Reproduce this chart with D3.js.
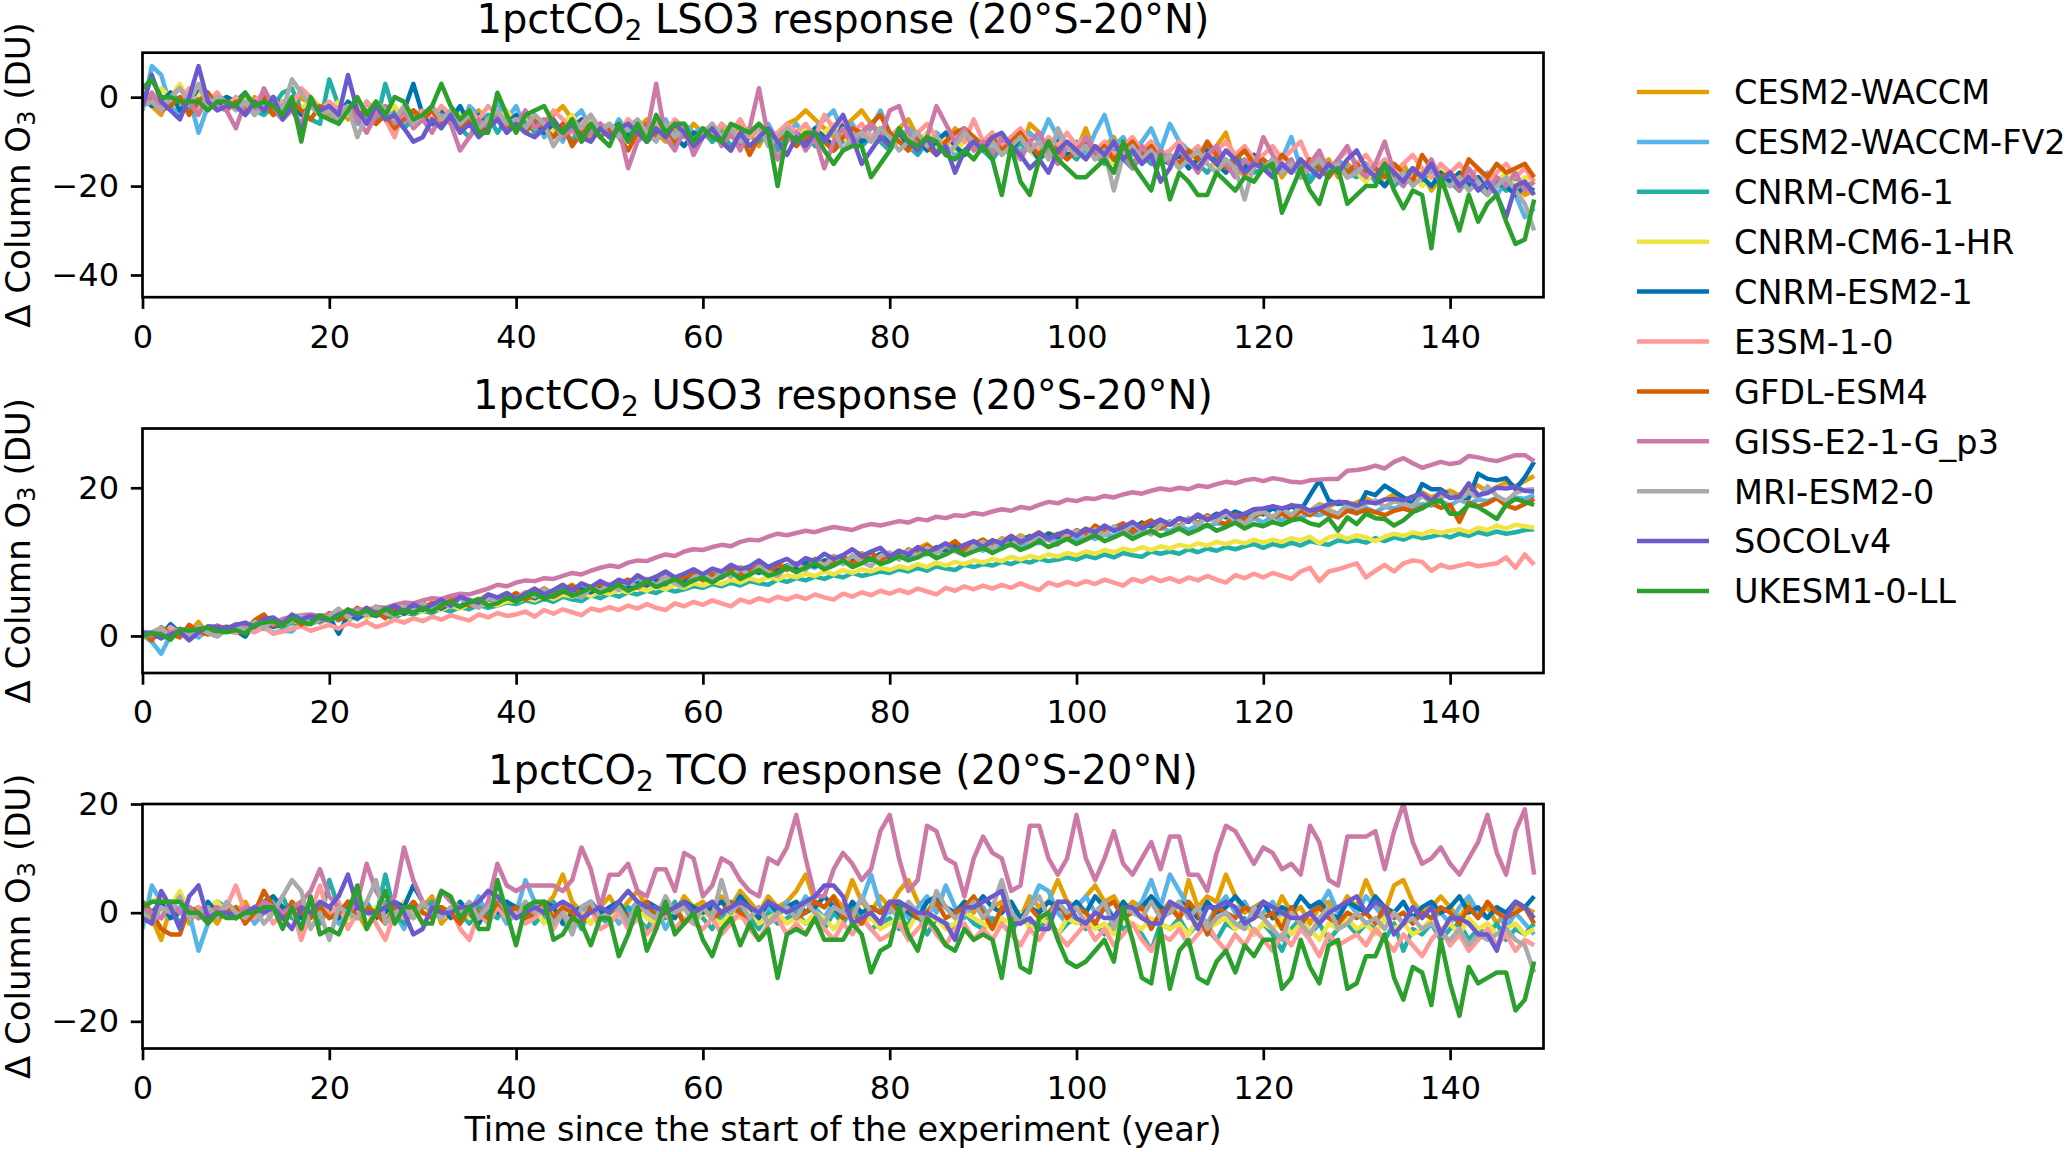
<!DOCTYPE html>
<html>
<head>
<meta charset="UTF-8">
<title>1pctCO2 ozone response</title>
<script src="https://d3js.org/d3.v7.min.js"></script>
<style>
  body { margin: 0; background: #fff; }
  svg text { font-family: "DejaVu Sans", sans-serif; fill: #000; }
</style>
</head>
<body>
<svg id="chart" width="2067" height="1152"></svg>
<script>
var models = ["CESM2-WACCM", "CESM2-WACCM-FV2", "CNRM-CM6-1", "CNRM-CM6-1-HR", "CNRM-ESM2-1",
              "E3SM-1-0", "GFDL-ESM4", "GISS-E2-1-G_p3", "MRI-ESM2-0", "SOCOLv4", "UKESM1-0-LL"];
var colors = ["#E69F00", "#56B4E9", "#20B0A8", "#F0E442", "#0072B2",
              "#FF9896", "#D55E00", "#CC79A7", "#AAAAAA", "#6A5ACD", "#2CA02C"];
var xTicks = [0, 20, 40, 60, 80, 100, 120, 140];

// ---- lower stratospheric ozone (LSO3), DU, years 0..149
var lso3_cesm = [0,-2,-4,1,-1,0,2,-1,1,-2, -1,-3,0,-2,-4,-1,-3,0,-2,-3, -4,-2,-5,-3,-6,-4,-2,-5,-3,-6, -5,-3,-6,-4,-7,-5,-3,-6,-4,-5, -7,-5,-8,-6,-4,-2,-5,-7,-9,-6, -8,-6,-9,-7,-5,-8,-10,-7,-9,-6, -8,-10,-7,-9,-6,-8,-11,-7,-9,-6, -5,-3,-5,-7,-9,-7,-5,-3,-6,-8, -9,-7,-5,-9,-11,-8,-10,-7,-9,-12, -10,-8,-11,-9,-13,-6,-8,-12,-10,-13, -12,-7,-13,-11,-9,-13,-15,-12,-10,-14, -13,-15,-12,-16,-14,-11,-8,-15,-18,-14, -16,-14,-18,-15,-17,-19,-16,-14,-18,-15, -17,-19,-16,-20,-18,-15,-19,-17,-21,-18, -19,-21,-18,-20,-22,-19,-21,-20,-22,-21];
var lso3_fv2 = [-3,7,5,-2,-4,0,-8,-2,-1,-3, 0,-4,-2,-1,-3,-5,-2,-4,-1,-3, -2,-5,-3,-6,-1,-4,-2,-5,-7,-3, -4,-6,-3,-5,-8,-2,-4,-6,-1,-5, -2,-7,-4,-9,-6,-10,-5,-3,-7,-6, -9,-5,-8,-6,-10,-7,-5,-9,-6,-8, -7,-10,-6,-8,-11,-7,-9,-6,-10,-8, -6,-9,-7,-5,-3,-8,-6,-10,-7,-3, -8,-10,-7,-9,-12,-8,-10,-13,-9,-11, -10,-12,-9,-11,-13,-8,-10,-5,-9,-12, -10,-13,-8,-4,-11,-9,-13,-10,-7,-12, -6,-10,-12,-14,-11,-15,-12,-14,-16,-13, -15,-17,-14,-9,-16,-18,-15,-17,-14,-16, -17,-15,-19,-16,-18,-20,-17,-19,-16,-18, -20,-18,-21,-19,-17,-22,-19,-22,-27,-25];
var lso3_cnrm = [-1,0,-2,1,-1,-3,0,-2,-1,0, -2,-1,-3,-4,-2,1,2,-3,-5,-6, 4,-2,-4,-3,-5,-6,3,-4,-7,-5, -4,-6,-3,-5,-7,-9,-6,-4,-8,-5, -7,-5,-8,-6,-9,-7,-10,-6,-8,-7, -9,-7,-10,-8,-6,-9,-7,-11,-8,-9, -7,-10,-8,-11,-9,-7,-10,-8,-12,-9, -10,-8,-11,-9,-12,-10,-8,-11,-9,-10, -12,-9,-11,-13,-10,-12,-9,-11,-13,-10, -12,-14,-11,-13,-10,-12,-14,-11,-13,-12, -14,-11,-13,-15,-12,-14,-16,-13,-15,-12, -14,-16,-13,-15,-17,-14,-16,-13,-15,-17, -16,-18,-15,-17,-14,-19,-16,-18,-15,-17, -18,-16,-19,-17,-20,-18,-16,-19,-17,-20, -19,-21,-18,-20,-22,-19,-21,-18,-20,-19];
var lso3_cnrmhr = [1,-1,2,0,3,-1,1,-2,0,-1, -2,0,-3,-1,-2,-4,-1,-3,0,-2, -3,-1,-4,-2,-5,-3,-4,-2,-5,-3, -4,-6,-2,-5,-3,-6,-4,-7,-5,-3, -6,-4,-7,-5,-8,-6,-4,-7,-5,-8, -6,-8,-5,-9,-7,-6,-8,-10,-7,-9, -8,-6,-9,-7,-10,-8,-9,-7,-10,-8, -9,-7,-10,-8,-6,-9,-11,-8,-10,-9, -11,-9,-12,-10,-8,-11,-9,-12,-10,-11, -12,-10,-13,-11,-9,-12,-14,-11,-13,-12, -13,-11,-14,-12,-15,-13,-11,-14,-12,-15, -14,-16,-13,-15,-12,-16,-14,-17,-15,-13, -16,-14,-17,-15,-18,-16,-14,-17,-15,-18, -17,-19,-16,-18,-15,-19,-17,-20,-18,-16, -19,-17,-20,-18,-21,-19,-17,-20,-18,-19];
var lso3_esm = [0,-2,-1,1,-3,-1,2,1,-2,0, -1,1,-2,-3,0,-2,-1,-4,-2,-3, -2,-4,-1,-3,-5,-2,-4,-6,-3,3, -4,-6,-3,-5,-2,-6,-4,-7,-5,-6, -4,-7,-5,-8,-6,-9,-7,-5,-8,-6, -8,-6,-9,-7,-10,-8,-6,-9,-11,-8, -9,-7,-10,-8,-11,-9,-7,-10,-8,-9, -8,-10,-7,-9,-11,-6,-8,-10,-9,-7, -10,-8,-11,-9,-12,-10,-8,-11,-13,-9, -11,-13,-10,-12,-9,-11,-14,-12,-10,-13, -12,-10,-13,-11,-14,-12,-15,-13,-11,-14, -15,-13,-16,-14,-12,-15,-17,-14,-16,-13, -16,-14,-17,-15,-18,-16,-14,-17,-15,-18, -17,-15,-18,-20,-17,-19,-16,-18,-20,-17, -19,-17,-20,-18,-21,-19,-20,-22,-20,-21];
var lso3_e3sm = [-1,1,-2,0,-1,2,-3,-1,1,-2, 0,-2,-1,1,-3,-1,-2,2,0,-3, -1,-3,-2,-4,-1,-3,-5,-9,-2,-4, -3,-5,-2,-4,-6,-3,-5,-2,-4,-6, -5,-7,-4,-6,-3,-5,-8,-6,-4,-7, -6,-8,-5,-7,-9,-6,-8,-5,-7,-10, -7,-9,-6,-8,-5,-9,-7,-10,-8,-6, -8,-6,-9,-4,-7,-5,-8,-6,-9,-7, -9,-7,-10,-8,-6,-9,-11,-8,-10,-5, -10,-8,-11,-9,-7,-10,-12,-9,-11,-8, -11,-9,-12,-10,-13,-11,-9,-12,-10,-13, -12,-10,-13,-11,-14,-12,-10,-13,-11,-14, -13,-11,-14,-12,-10,-15,-13,-16,-14,-12, -15,-13,-16,-14,-17,-15,-13,-16,-18,-15, -17,-15,-18,-16,-19,-17,-15,-18,-16,-19];
var lso3_gfdl = [1,-1,-3,-2,0,-4,-1,1,-2,-3, -1,-3,-2,0,-4,-2,-1,-3,-5,-2, -3,-5,-2,-4,-3,-6,-4,-7,-5,-3, -5,-3,-6,-4,-7,-5,-8,-6,-4,-7, -6,-8,-5,-7,-9,-6,-11,-8,-6,-9, -7,-9,-12,-8,-6,-9,-7,-10,-8,-11, -9,-7,-10,-12,-8,-13,-9,-7,-10,-8, -11,-9,-8,-10,-12,-9,-7,-8,-6,-4, -8,-10,-12,-9,-11,-13,-10,-8,-7,-9, -11,-9,-12,-10,-8,-11,-13,-10,-12,-14, -12,-10,-13,-11,-14,-12,-10,-13,-11,-14, -13,-15,-12,-14,-10,-13,-16,-14,-12,-15, -14,-16,-13,-15,-17,-14,-16,-18,-15,-17, -15,-17,-16,-18,-15,-17,-19,-13,-16,-18, -17,-19,-14,-16,-18,-15,-17,-16,-15,-18];
var lso3_giss = [-2,1,-3,0,2,-1,-4,0,-2,-3, -7,-1,-4,2,-2,-5,-3,-6,-1,-4, -3,-6,-2,-5,-8,-4,-2,-6,-3,-7, -5,-8,-4,-6,-12,-9,-5,-7,-4,-8, -6,-3,-7,-5,-6,-9,-7,-10,-8,-6, -9,-7,-16,-10,-8,3,-9,-12,-7,-13, -9,-6,-11,-8,-12,-7,2,-9,-14,-10, -8,-12,-9,-16,-10,-7,-11,-8,-6,-9, -3,-2,-8,-11,-9,-2,-6,-10,-7,-12, -10,-13,-9,-11,-14,-10,-8,-12,-15,-11, -13,-9,-12,-14,-10,-13,-16,-11,-14,-12, -15,-12,-14,-17,-13,-11,-15,-18,-14,-16, -9,-13,-16,-14,-18,-15,-12,-17,-14,-11, -16,-18,-15,-10,-17,-20,-16,-18,-14,-19, -17,-21,-16,-19,-22,-18,-20,-17,-21,-19];
var lso3_mri = [-2,-1,-3,0,2,-1,3,-2,0,-1, -3,-1,-4,-2,0,-3,4,1,-2,-4, -3,-5,-2,-9,-4,-1,-3,-5,-2,-6, -4,-2,-5,-3,-6,-4,-7,-5,-3,-6, -5,-7,-4,-6,-11,-8,-5,-7,-4,-8, -6,-9,-7,-5,-8,-10,-6,-9,-7,-11, -8,-6,-9,-7,-10,-8,-6,-11,-9,-7, -9,-11,-8,-10,-7,-12,-9,-8,-10,-7, -9,-12,-10,-8,-11,-9,-13,-11,-8,-10, -12,-10,-13,-11,-9,-12,-10,-14,-7,-11, -13,-11,-14,-12,-21,-13,-11,-14,-12,-15, -13,-16,-14,-12,-15,-17,-14,-16,-23,-15, -16,-14,-17,-15,-18,-16,-14,-17,-15,-18, -17,-15,-18,-16,-19,-17,-20,-18,-16,-19, -20,-18,-21,-19,-22,-20,-18,-21,-24,-30];
var lso3_socol = [-2,5,-1,-3,-5,0,7,-1,-3,-2, -2,-4,-1,-3,0,-5,-2,-8,-1,-3, -2,-4,5,-3,-6,-2,-5,-4,-7,-10, -9,-5,-7,-4,-8,-6,-9,-7,-5,-8, -6,-8,-9,-7,-5,-8,-6,-9,-10,-7, -9,-7,-6,-8,-10,-7,-9,-6,-8,-11, -9,-7,-10,-12,-8,-11,-9,-7,-10,-13, -9,-11,-8,-10,-7,-4,-9,-15,-12,-9, -11,-8,-10,-12,-9,-13,-11,-17,-12,-10, -12,-9,-8,-11,-13,-16,-14,-17,-12,-10, -12,-14,-11,-13,-10,-14,-12,-15,-13,-19, -16,-11,-14,-16,-13,-15,-12,-14,-17,-15, -16,-18,-15,-17,-14,-16,-18,-15,-17,-14, -12,-16,-18,-15,-17,-19,-16,-18,-15,-19, -17,-20,-18,-21,-19,-22,-27,-20,-19,-22];
var lso3_ukesm = [2,4,0,0,-1,-1,-1,-3,-1,-1, -2,1,-2,-1,-2,-4,0,-10,0,-4, -5,-6,-3,0,-4,-1,-4,0,-1,-5, -4,-2,3,-2,-5,-3,-8,-8,1,-4, -8,-4,-3,-2,-6,-8,-5,-10,-6,-9, -11,-6,-10,-6,-10,-4,-8,-6,-6,-10, -7,-9,-10,-6,-7,-8,-6,-8,-20,-8, -10,-8,-8,-12,-15,-12,-11,-11,-18,-15, -12,-7,-10,-11,-9,-10,-13,-14,-12,-14, -11,-14,-22,-11,-19,-22,-14,-10,-14,-16, -18,-18,-16,-14,-17,-10,-15,-18,-21,-13, -23,-17,-19,-22,-22,-17,-19,-21,-18,-19, -16,-15,-26,-21,-16,-21,-24,-17,-16,-24, -22,-20,-20,-15,-21,-25,-21,-22,-34,-18, -24,-30,-22,-28,-24,-22,-28,-33,-32,-23];

// ---- upper stratospheric ozone (USO3), DU
var uso3_cesm = [0.3,-0.4,0.6,0.1,1.0,0.4,1.9,0.2,0.8,1.3, 0.9,1.6,1.2,2.4,1.5,1.9,2.7,2.0,2.5,2.2, 2.9,3.4,2.6,3.1,3.8,2.9,3.6,4.1,3.5,3.9, 4.4,3.8,4.9,4.5,5.2,4.3,4.8,5.6,5.0,5.4, 5.1,5.9,5.5,6.4,5.7,6.2,6.9,6.1,6.6,7.0, 6.5,7.2,6.8,7.6,7.1,8.0,7.3,7.8,8.4,7.7, 8.2,8.9,8.0,8.6,9.3,8.7,9.5,9.0,9.8,9.2, 9.6,10.3,9.7,10.1,10.8,9.9,10.6,11.2,10.4,11.0, 10.7,11.5,11.0,11.8,12.4,11.3,12.0,12.6,11.9,12.3, 12.8,12.1,13.2,12.7,13.6,13.0,12.6,13.9,13.4,14.1, 13.7,14.5,13.9,14.8,14.2,15.0,14.4,15.3,14.7,15.6, 15.1,15.8,15.4,16.3,15.6,16.0,16.7,15.9,16.5,17.1, 16.6,17.3,16.8,17.7,17.2,16.9,17.8,17.4,18.1,17.6, 18.0,18.6,17.9,18.4,19.1,18.3,18.8,19.4,18.7,19.2, 19.6,19.0,19.8,20.3,19.5,20.1,20.7,20.2,20.9,21.6];
var uso3_fv2 = [0.2,-0.8,-2.4,0.1,0.7,0.3,-0.2,0.9,0.5,1.2, 0.8,1.4,0.6,1.1,0.4,0.7,0.6,1.9,2.2,1.8, 2.5,2.1,2.9,2.2,3.3,2.8,3.4,3.1,3.9,3.2, 3.8,3.6,4.3,4.5,3.9,4.9,4.3,5.0,4.8,5.5, 4.9,5.7,5.1,5.8,5.6,6.2,5.5,6.5,6.1,6.6, 6.4,6.9,6.5,7.4,7.0,7.5,7.2,7.7,7.5,8.2, 7.6,8.4,7.9,8.6,8.3,8.8,8.6,9.3,8.7,9.5, 9.1,9.6,9.2,10.1,9.6,10.1,9.9,10.4,10.2,10.9, 10.2,11.1,10.5,11.2,11.0,11.5,11.2,11.9,11.3,12.2, 11.5,12.4,11.8,12.5,12.2,12.7,12.5,13.2,12.6,13.4, 12.8,13.7,13.1,13.7,13.5,14.0,13.8,14.4,13.8,14.7, 14.1,14.9,14.3,15.0,14.8,15.2,15.0,15.7,15.1,15.9, 15.3,16.2,15.6,16.2,16.0,16.5,16.3,16.7,16.5,17.1, 16.5,17.3,16.7,17.4,17.2,17.6,17.4,17.8,17.6,18.2, 17.6,18.4,17.8,18.4,18.2,18.6,18.3,18.7,18.5,19.0];
var uso3_cnrm = [0.1,0.4,-0.3,0.6,0.2,0.8,0.5,0.3,0.9,0.6, 1.1,0.8,1.4,1.0,1.5,1.2,1.8,1.4,1.7,2.0, 2.2,2.6,2.1,2.8,2.5,3.0,2.7,2.4,3.2,2.9, 3.4,3.1,3.7,3.3,3.9,3.6,4.2,3.8,4.1,4.5, 4.3,4.8,4.5,5.0,4.6,5.3,4.9,4.7,5.5,5.1, 5.7,5.3,5.9,5.6,6.1,5.8,6.4,6.0,6.3,6.7, 6.5,7.0,6.7,7.2,6.8,7.4,7.1,6.9,7.6,7.3, 7.8,7.5,8.0,7.7,8.2,7.9,8.5,8.1,8.4,8.7, 8.5,9.0,8.7,9.2,8.8,9.4,9.1,8.9,9.6,9.3, 9.7,9.5,10.0,9.7,10.2,9.9,10.4,10.1,10.3,10.6, 10.3,10.8,10.5,11.0,10.6,11.2,10.9,10.7,11.4,11.1, 11.4,11.1,11.7,11.3,11.8,11.5,12.0,11.7,12.1,12.4, 11.9,12.4,12.1,12.6,12.2,12.8,12.5,12.3,12.9,12.7, 12.9,12.6,13.2,12.8,13.3,13.0,13.5,13.2,13.4,13.7, 13.3,13.8,13.5,14.0,13.7,14.1,13.8,14.0,14.3,14.4];
var uso3_cnrmhr = [-0.2,0.5,0.2,0.9,0.4,0.7,1.1,0.6,0.9,1.3, 1.0,1.5,1.2,1.8,1.4,1.6,2.1,1.7,2.0,2.4, 2.0,2.6,2.3,2.8,2.5,3.0,2.7,3.2,2.9,3.4, 3.3,3.8,3.5,4.1,3.7,4.3,4.0,4.5,4.1,4.7, 4.6,5.1,4.8,5.4,5.0,5.6,5.3,5.8,5.4,6.0, 5.7,6.2,5.9,6.5,6.1,6.7,6.3,6.9,6.5,7.1, 6.8,7.3,7.0,7.6,7.2,7.8,7.4,8.0,7.6,8.2, 7.9,8.4,8.1,8.7,8.3,8.9,8.5,9.0,8.7,9.2, 8.9,9.4,9.1,9.7,9.3,9.9,9.5,10.0,9.7,10.2, 9.9,10.4,10.1,10.7,10.3,10.8,10.5,11.0,10.7,11.2, 10.9,11.4,11.1,11.6,11.3,11.8,11.5,12.0,11.6,12.1, 11.8,12.3,12.0,12.5,12.2,12.7,12.4,12.8,12.5,13.0, 12.6,13.0,12.7,13.2,12.9,13.4,12.5,13.3,13.6,13.1, 13.6,13.3,12.8,13.4,13.8,13.5,14.0,13.7,14.2,13.9, 14.2,14.4,14.0,14.6,14.3,14.9,14.5,15.0,14.8,14.6];
var uso3_esm = [0.3,-0.2,0.1,1.6,0.4,0.2,0.6,0.5,0.9,1.2, 0.7,-0.1,1.8,2.5,1.2,1.6,2.0,2.3,1.9,2.4, 2.6,0.3,2.8,2.4,3.1,2.7,3.3,3.6,3.0,3.8, 3.5,4.1,3.7,4.4,4.0,4.7,4.3,5.0,4.6,5.2, 4.8,5.5,5.1,5.8,5.3,6.0,5.7,6.3,5.9,6.6, 6.2,6.9,6.4,7.1,6.8,7.5,7.0,7.8,7.3,8.0, 7.6,8.3,7.9,8.7,8.1,8.9,8.5,9.3,8.8,9.5, 9.1,9.9,9.4,10.2,9.7,10.5,10.0,10.8,10.3,11.1, 10.6,11.4,10.9,11.7,11.2,12.0,11.6,12.3,11.9,12.7, 12.1,12.9,12.4,13.2,12.8,13.5,13.1,13.8,13.3,14.1, 13.6,14.4,13.9,14.7,14.2,15.0,14.5,15.3,14.8,15.6, 15.1,15.9,15.4,16.2,15.7,16.5,16.0,16.8,16.3,17.0, 16.4,17.2,16.7,17.5,16.9,19.0,21.0,18.3,17.8,18.0, 16.9,19.4,19.0,20.3,19.5,18.7,17.8,20.5,19.8,19.8, 18.9,18.7,18.6,21.9,21.2,21.0,21.3,19.8,21.4,23.5];
var uso3_e3sm = [0.1,0.5,-0.3,1.2,0.4,0.8,0.3,0.6,1.1,0.7, 0.4,0.9,0.5,1.2,0.3,0.6,1.0,1.3,0.7,1.1, 1.5,1.0,1.7,1.3,1.9,1.2,1.6,2.2,1.8,2.4, 2.0,2.6,2.2,2.8,2.4,2.1,2.9,2.5,3.1,2.7, 2.9,3.3,2.6,3.5,3.0,3.6,3.2,2.8,3.7,3.4, 3.9,3.5,4.1,3.7,4.3,3.8,3.5,4.4,4.0,4.6, 4.2,4.8,4.4,4.0,4.9,4.5,5.1,4.7,5.3,4.9, 5.4,5.0,5.6,5.2,4.9,5.7,5.3,5.9,5.5,6.1, 5.7,6.2,5.8,6.4,6.0,5.6,6.5,6.1,6.7,6.3, 6.8,6.4,6.9,6.5,7.1,6.6,6.2,7.2,6.8,7.3, 6.9,7.4,7.0,7.6,7.2,6.8,7.7,7.3,7.9,7.4, 7.8,7.3,7.9,7.5,8.1,7.6,7.2,8.2,7.8,8.4, 7.9,8.5,8.1,7.7,8.7,9.2,7.4,8.7,9.0,9.4, 9.8,7.9,8.8,9.6,8.7,9.8,10.2,10.0,8.8,9.6, 9.2,9.5,9.8,9.4,9.6,9.8,10.6,9.2,11.0,9.6];
var uso3_gfdl = [0.4,-0.6,1.2,0.3,-0.2,1.5,0.6,0.2,1.4,0.9, 1.6,0.8,2.1,2.9,1.4,1.7,2.6,1.5,2.8,2.0, 3.1,2.2,2.7,3.8,2.9,3.3,2.4,3.9,3.5,4.4, 3.6,4.5,3.9,4.8,5.3,4.0,4.6,5.5,4.7,5.0, 5.8,4.9,5.6,6.4,5.3,6.1,6.8,5.7,6.3,7.1, 6.2,7.0,7.6,6.5,7.3,6.8,8.1,7.2,7.9,8.4, 7.5,8.3,7.9,9.1,8.2,8.7,9.4,8.5,9.6,8.9, 9.8,9.0,10.4,9.6,10.1,10.9,9.7,10.6,11.3,10.2, 11.0,10.5,11.7,11.1,12.2,11.4,12.0,12.8,11.6,12.4, 13.0,12.2,12.7,13.5,12.6,13.3,14.0,13.1,13.8,13.2, 14.3,13.6,14.9,14.1,14.6,15.2,14.0,15.0,15.6,14.5, 15.3,14.8,15.9,15.2,16.3,15.5,15.1,16.4,15.8,16.1, 16.7,16.0,16.5,15.8,16.9,16.3,17.1,16.4,16.0,16.9, 16.6,17.0,16.7,16.3,16.9,17.2,16.8,17.4,17.9,17.3, 17.7,15.4,18.0,17.5,17.9,18.6,17.6,17.2,17.8,18.5];
var uso3_giss = [0.3,0.1,0.6,0.4,0.9,0.7,0.5,1.1,1.3,1.0, 1.4,1.3,1.7,1.9,1.6,2.3,2.6,2.8,2.9,2.7, 2.9,3.3,3.2,3.6,3.5,3.9,3.8,4.2,4.5,4.4, 4.8,5.1,5.0,5.4,5.7,5.6,6.0,6.4,6.9,6.7, 7.2,7.5,7.4,7.8,7.7,8.1,8.5,8.3,8.8,9.2, 9.5,9.3,9.9,10.2,10.1,10.6,11.0,10.8,11.4,11.7, 11.6,12.0,12.3,12.1,12.7,13.0,12.9,13.4,13.8,13.6, 13.9,14.2,14.0,14.4,14.7,14.5,14.3,14.8,15.1,14.9, 15.2,15.5,15.3,15.8,15.6,16.1,15.9,16.3,16.2,16.6, 16.4,16.8,17.1,16.9,17.4,17.2,17.7,18.1,17.9,18.4, 18.2,18.6,18.5,18.9,18.7,19.1,19.4,19.2,19.6,19.9, 19.7,20.0,19.8,20.3,20.1,20.5,20.8,20.6,21.0,21.2, 20.9,21.3,21.1,20.8,20.7,21.0,21.1,21.2,21.2,22.3, 22.4,22.6,23.0,22.6,23.5,24.0,23.3,22.7,23.1,23.5, 23.2,23.4,24.3,24.1,23.8,23.6,24.0,24.4,24.4,23.6];
var uso3_mri = [-0.3,0.5,1.1,-0.2,0.9,0.1,1.3,0.4,-0.1,0.8, 1.5,0.7,1.9,1.1,2.3,1.4,2.0,2.8,1.6,2.2, 2.6,3.7,2.5,3.3,2.8,4.0,3.1,2.7,3.9,3.4, 4.3,3.5,4.6,3.9,5.1,4.4,3.8,5.2,4.5,5.6, 5.0,5.9,5.3,6.3,5.5,6.6,5.7,5.2,6.5,6.1, 7.0,6.2,7.3,6.6,7.7,6.8,8.0,7.1,6.7,7.9, 8.4,7.5,8.7,8.0,9.1,8.2,9.3,8.6,8.1,9.4, 9.8,8.9,10.2,9.5,10.6,9.7,10.9,10.0,9.4,10.8, 11.3,10.3,11.6,10.8,11.9,11.2,12.3,11.4,10.9,12.2, 12.7,11.8,13.0,12.2,13.4,12.6,13.6,12.9,12.3,13.7, 14.2,13.1,14.4,13.6,14.8,14.0,15.1,14.3,13.7,15.0, 15.5,14.6,15.9,15.0,16.1,15.4,16.5,15.6,15.1,16.4, 16.8,16.0,17.2,16.3,17.5,16.7,17.7,17.0,16.5,17.8, 17.2,17.9,18.3,17.4,18.2,17.8,17.5,19.0,17.9,18.7, 19.1,18.3,19.4,18.6,20.2,18.9,18.2,19.3,19.7,19.8];
var uso3_socol = [0.5,0.4,-0.3,0.2,0.6,-0.6,0.5,1.3,1.2,1.0, 1.5,1.8,1.2,2.3,2.5,1.6,2.9,2.2,2.7,2.4, 2.1,2.9,3.4,2.6,3.8,3.0,3.5,4.1,3.2,4.3, 3.6,4.2,4.9,4.1,5.3,4.8,4.5,5.6,5.2,5.8, 5.0,5.7,6.4,5.6,6.2,6.9,6.1,7.1,6.6,7.4, 6.8,7.6,7.1,8.2,7.5,8.0,8.7,7.9,8.4,9.0, 8.3,9.1,8.7,9.6,9.0,9.4,10.2,9.3,9.9,10.4, 9.6,10.5,10.1,11.1,10.4,10.9,11.7,10.8,11.4,11.9, 10.7,11.5,11.0,12.0,11.3,11.8,12.5,11.6,12.3,12.8, 12.0,12.9,12.5,13.5,12.7,13.2,13.9,13.1,13.7,14.2, 13.5,14.4,14.0,14.9,14.2,14.7,15.4,14.5,15.1,15.7, 15.0,15.9,15.5,16.4,15.7,16.2,16.9,16.0,16.5,17.1, 17.2,17.5,17.2,17.6,17.5,16.9,17.2,17.8,18.1,18.0, 17.6,18.1,17.9,18.4,18.5,18.3,18.8,19.2,18.2,19.5, 18.6,18.8,20.6,19.0,19.3,20.0,19.9,20.1,19.6,19.5];
var uso3_ukesm = [-0.1,0.4,0.2,-0.5,0.9,0.7,0.9,1.1,0.7,0.5, 0.8,0.3,1.5,1.8,2.0,1.4,2.4,1.9,1.6,2.8, 2.2,2.6,3.6,3.0,3.4,2.8,3.7,2.9,3.5,3.1, 3.8,3.3,4.2,4.6,3.9,4.5,5.0,4.1,4.4,5.2, 4.6,5.3,5.8,5.0,5.5,6.2,5.4,5.9,6.5,5.8, 6.3,6.9,6.1,6.7,7.4,6.6,7.1,7.7,6.9,7.5, 7.9,7.2,8.0,8.6,7.7,8.3,8.9,8.1,8.5,9.3, 8.6,9.2,9.8,9.0,9.5,10.2,9.3,9.8,10.5,9.7, 10.1,10.8,10.2,10.6,11.3,10.5,11.0,11.7,10.9,11.4, 11.9,11.2,11.8,12.4,11.6,12.1,12.8,12.0,12.5,13.1, 12.4,13.0,13.6,12.8,13.3,13.9,13.1,13.7,14.2,13.5, 13.9,14.5,13.8,14.3,15.0,14.2,14.7,15.3,14.5,15.1, 14.8,15.4,15.0,15.6,15.8,15.2,14.9,15.9,14.2,16.0, 15.1,16.5,15.9,15.8,14.9,15.6,16.7,17.2,18.0,18.3, 16.5,16.5,17.7,17.4,16.6,15.8,17.7,18.5,18.1,17.7];

// ---- total column ozone (TCO), DU
var tco_cesm = [2,-1,-5,1,3,-2,1,0,-2,1, 0,2,-1,1,3,0,-1,2,0,-2, 1,-1,2,0,-3,1,-1,0,2,-1, 1,3,-2,0,1,-1,2,0,3,1, 0,2,-1,1,3,7,2,0,-2,1, 3,0,2,4,1,-1,2,0,3,1, 2,0,3,1,4,2,0,3,1,2, 4,7,2,1,3,1,6,2,0,3, 1,4,6,2,0,3,1,-1,2,0, 3,1,2,0,-1,3,1,2,6,2, 1,3,5,2,3,0,2,1,3,0, 2,-1,6,1,3,2,7,3,0,1, 2,-1,3,0,1,-2,1,2,0,3, 1,6,2,0,5,6,2,0,1,3, 1,-1,2,0,1,-2,0,1,1,0];
var tco_fv2 = [-3,5,2,-1,1,0,-7,-2,1,0, -1,1,-2,0,2,-1,0,-3,1,-1, 0,-2,1,3,0,-1,2,0,-3,1, 0,2,-1,1,-2,0,3,-1,1,-2, 0,6,2,-1,1,-2,-3,0,2,-1, 1,-2,0,2,-1,1,-3,0,2,-1, 0,2,-1,1,3,-2,0,1,-1,2, 0,3,1,-1,2,0,1,2,7,1, 0,2,-1,1,3,0,5,1,-1,2, 1,-2,0,2,-1,1,5,4,0,-2, 1,3,0,2,-1,1,0,2,6,1, 7,4,1,0,-2,1,3,0,2,-1, 0,2,-1,1,-2,0,1,4,0,2, 0,3,1,-1,0,-2,1,0,-1,0, -2,1,3,0,-1,1,-3,0,-2,-4];
var tco_cnrm = [2,0,-1,1,-2,0,1,-1,2,1, 0,-1,1,2,0,3,-1,0,1,-2, 6,1,-1,0,2,-1,7,0,-2,1, 0,2,-1,1,0,-2,1,0,-1,2, 0,1,-2,0,2,-1,0,-3,1,-1, -2,0,1,-1,-3,0,-1,2,-2,0, -1,-3,0,-2,1,-1,-3,0,-2,-1, 0,-2,-1,-3,0,-2,1,-1,-3,-2, -1,-3,-2,0,-4,-1,-2,-3,0,-2, -3,-1,-2,-4,0,-2,-3,-1,-4,-2, -1,-3,-2,-4,-1,-3,-2,-4,-7,-2, -3,-1,-4,-2,-3,-5,-2,-3,-1,-4, -2,-4,-7,-3,-1,-4,-2,-5,-3,-2, -4,-2,-3,-5,-2,-7,-3,-4,-2,-5, -3,-2,-5,-3,-4,-2,-5,-3,-4,-2];
var tco_cnrmhr = [1,2,3,1,4,0,-1,1,2,0, 1,-1,0,2,1,-1,0,1,-1,0, 1,0,-1,2,0,1,-1,0,2,-1, 0,1,-1,0,2,-1,0,-2,1,-1, 0,-1,1,-2,0,1,-1,0,-2,1, -1,0,-2,1,-1,-2,0,-1,1,-2, 0,-1,-2,0,-1,1,-2,-1,0,-2, -1,-2,0,-1,-3,-1,0,-2,-1,-3, -2,-1,-3,0,-2,-1,-3,-2,0,-1, -2,-3,-1,-2,0,-3,-1,-2,-4,-1, -2,-1,-3,-2,-4,-1,-2,-3,-1,-2, -3,-2,-4,-1,-3,-2,-1,-3,-2,-4, -2,-3,-1,-4,-2,-3,-5,-2,-3,-1, -3,-2,-4,-1,-3,-2,-4,-3,-1,-3, -2,-4,-1,-3,-2,-4,-3,-2,-4,-3];
var tco_esm = [1,0,2,-1,0,1,-1,2,0,1, -1,1,0,2,3,1,0,-1,1,0, 1,-1,2,0,1,-1,0,2,1,5, 2,0,1,-1,2,0,-2,1,0,2, 1,0,-1,2,1,-2,0,1,2,0, 1,2,-1,0,2,1,0,-1,2,1, 0,1,2,0,3,1,-1,2,0,1, 2,0,1,3,1,-1,2,0,1,0, 1,2,0,-1,2,3,1,0,2,1, 3,1,0,2,-1,1,0,2,1,0, 2,0,3,1,-1,2,0,1,3,1, 0,2,1,-1,2,0,1,3,1,0, 2,-1,1,0,3,1,2,0,-1,2, 1,0,3,1,0,2,-1,1,2,0, 1,3,0,1,-1,1,0,2,1,3];
var tco_e3sm = [1,0,-1,2,0,-1,1,-2,0,1, 5,0,-1,1,-2,0,1,-5,0,5, -1,2,-3,0,1,-2,-5,0,-1,1, -2,0,-1,1,-3,-5,0,-2,1,-1, 0,-2,-1,1,-3,0,-2,-1,1,-3, -2,0,-3,-1,-4,-2,0,-3,-1,-2, -3,-1,-4,-2,0,-3,-5,-2,-1,-4, -2,-4,-1,-3,-5,-2,-4,-1,-3,-5, -4,-2,-5,-3,-1,-4,-6,-3,-2,-5, -3,-5,-2,-4,-6,-3,-5,-2,-4,-6, -4,-2,-5,-3,-6,-4,-2,-5,-7,-4, -5,-3,-6,-4,-2,-5,-7,-4,-6,-3, -5,-7,-4,-6,-3,-5,-8,-4,-6,-5, -4,-6,-3,-5,-7,-4,-6,-8,-5,-3, -6,-4,-7,-5,-3,-6,-4,-7,-5,-6];
var tco_gfdl = [2,0,-3,-4,-4,1,0,1,-1,0, 1,-2,0,4,1,-1,2,0,-1,1, -1,0,2,-1,1,0,-2,1,0,2, 0,-1,1,0,-2,1,0,-1,2,0, 1,-1,0,2,-1,1,0,-2,1,-1, 0,1,-1,0,2,-1,0,1,-2,0, 1,-1,0,2,0,-1,1,-2,0,1, -1,0,2,1,3,-1,0,-2,1,0, 2,0,1,-1,0,2,-1,0,1,3, 0,-3,1,0,-2,1,-1,0,2,-1, 1,0,-2,1,2,-1,0,1,-3,0, 1,-1,2,0,-4,1,0,-1,1,0, -1,0,-3,1,-2,0,1,-1,-2,0, -1,0,-2,1,-1,0,-2,0,-1,1, 0,-2,1,-1,2,0,-1,0,1,-2];
var tco_giss = [1,0,-1,2,0,1,-1,0,1,0, -1,1,0,2,1,0,1,2,4,8, 3,1,0,2,9,4,1,3,12,6, 2,0,4,2,1,0,-1,2,9,5, 4,5,5,5,5,4,6,12,8,1, 7,7,9,4,3,8,8,4,11,10, 3,5,10,9,6,4,3,10,9,12, 18,10,3,3,8,11,9,6,8,15, 18,10,4,6,16,15,10,9,3,10, 14,11,10,4,5,16,16,10,7,10, 18,10,6,10,15,9,7,10,13,8, 14,14,7,7,4,11,16,15,12,9, 12,11,8,9,7,16,13,6,5,14, 14,14,15,8,15,20,13,9,10,12, 9,7,10,13,18,11,7,15,19,7];
var tco_mri = [0,-2,1,0,3,-1,0,1,-1,2, 0,-1,1,-2,0,3,6,4,-3,0, -5,1,0,-1,2,6,-2,0,1,-1, 2,0,-1,1,0,2,-1,1,3,0, -1,2,0,1,-2,0,-4,1,2,-1, 0,1,-2,2,0,-1,3,0,1,-2, 1,-1,6,0,2,-1,1,-2,0,1, -1,2,0,-2,1,0,-1,3,0,-2, 1,-1,2,0,-2,4,1,-1,0,2, -1,1,6,0,-2,1,3,-1,2,0, 1,-2,0,2,-3,1,0,-1,2,-1, 0,2,-1,1,-3,-1,0,-2,-3,1, -1,-3,-5,0,-2,-4,-1,1,-3,-2, 0,-2,-1,-3,0,-2,-1,-3,-2,-4, -5,-3,-6,-4,-5,-4,-3,-5,-6,-11];
var tco_socol = [-1,-2,4,1,-3,3,5,-1,0,0, -1,0,1,0,1,-1,-3,1,0,2, 1,3,7,1,0,0,1,2,0,-4, -3,1,0,0,1,1,2,4,3,1, -1,0,1,0,1,2,1,-1,0,1, 0,2,4,2,1,1,0,1,2,0, 1,2,0,1,2,1,0,2,1,0, 1,2,3,5,5,3,-2,-1,0,-2, 2,2,1,0,0,-1,-2,-5,1,1, 2,3,4,-2,-2,-1,-3,-3,2,2, -1,-2,0,-1,-1,1,1,-1,-2,-2, 2,1,0,-3,1,1,2,1,-2,-1, 2,1,0,-1,-1,0,-2,0,1,2, 3,0,2,1,-4,-2,1,-1,1,-4, -1,-1,-2,-4,-4,-7,-1,2,1,-1];
var tco_ukesm = [1,2,2,2,2,0,0,-2,0,-1, -1,0,0,1,1,-3,1,-3,3,-4, -3,-4,0,5,-3,0,4,-2,1,1, -2,-2,4,3,-1,1,-3,-3,6,0, -6,1,2,2,-5,-4,-1,-2,-6,-1, -1,-8,-4,1,-7,-3,2,-4,-2,0, -5,-8,-3,-1,-6,-2,-5,-3,-12,-4, -3,-4,-1,-5,-5,-5,-2,-4,-11,-7, -6,1,-4,-7,-1,-3,-6,-7,-3,-5, -4,-5,-12,-1,-10,-11,-1,0,-5,-9, -10,-9,-7,-5,-9,1,-5,-12,-13,-3, -14,-7,-5,-12,-13,-9,-7,-11,-6,-8, -5,-5,-14,-12,-5,-10,-13,-6,-5,-14, -13,-8,-8,-4,-12,-16,-10,-11,-17,-5, -13,-19,-10,-13,-12,-11,-11,-18,-16,-9];

var panels = [
  { name: "LSO3", ydomain: [-45, 10], yticks: [-40, -20, 0],
    series: [lso3_cesm, lso3_fv2, lso3_cnrm, lso3_cnrmhr, lso3_esm, lso3_e3sm, lso3_gfdl, lso3_giss, lso3_mri, lso3_socol, lso3_ukesm] },
  { name: "USO3", ydomain: [-5, 28], yticks: [0, 20],
    series: [uso3_cesm, uso3_fv2, uso3_cnrm, uso3_cnrmhr, uso3_esm, uso3_e3sm, uso3_gfdl, uso3_giss, uso3_mri, uso3_socol, uso3_ukesm] },
  { name: "TCO", ydomain: [-25, 20], yticks: [-20, 0, 20],
    series: [tco_cesm, tco_fv2, tco_cnrm, tco_cnrmhr, tco_esm, tco_e3sm, tco_gfdl, tco_giss, tco_mri, tco_socol, tco_ukesm] }
];

var svg = d3.select("#chart");
var left = 142.5, right = 1543.5, ph = 244.5;
var tops = [52.7, 428.5, 804];
var fs = 33.5, tfs = 32, lw = 4.5, axw = 2.7, tick = 11.7;

var x = d3.scaleLinear().domain([0, 150]).range([left, right]);

panels.forEach(function(p, i) {
  var top = tops[i];
  var y = d3.scaleLinear().domain(p.ydomain).range([top + ph, top]);
  var g = svg.append("g");

  svg.append("clipPath").attr("id", "clip" + i)
    .append("rect").attr("x", left).attr("y", top).attr("width", right - left).attr("height", ph);

  var line = d3.line()
    .x(function(d, j) { return x(j); })
    .y(function(d) { return y(d); });

  var lines = g.append("g").attr("clip-path", "url(#clip" + i + ")");
  p.series.forEach(function(s, k) {
    lines.append("path")
      .attr("d", line(s))
      .attr("fill", "none")
      .attr("stroke", colors[k])
      .attr("stroke-width", lw)
      .attr("stroke-linejoin", "round");
  });

  var xa = g.append("g")
    .attr("transform", "translate(0," + (top + ph) + ")")
    .call(d3.axisBottom(x).tickValues(xTicks).tickSize(tick).tickPadding(16).tickSizeOuter(0));
  var ya = g.append("g")
    .attr("transform", "translate(" + left + ",0)")
    .call(d3.axisLeft(y).tickValues(p.yticks).tickSize(tick).tickPadding(11.8).tickSizeOuter(0));

  [xa, ya].forEach(function(a) {
    a.select(".domain").remove();
    a.selectAll(".tick line").attr("stroke", "#000").attr("stroke-width", axw);
    a.selectAll(".tick text").attr("font-size", tfs).attr("font-family", "DejaVu Sans").attr("fill", "#000");
  });

  g.append("rect")
    .attr("x", left).attr("y", top).attr("width", right - left).attr("height", ph)
    .attr("fill", "none").attr("stroke", "#000").attr("stroke-width", axw);

  // title with subscript
  var t = g.append("text")
    .attr("x", (left + right) / 2).attr("y", top - 19.7)
    .attr("text-anchor", "middle").attr("font-size", 40);
  t.append("tspan").text("1pctCO");
  t.append("tspan").attr("font-size", 28).attr("dy", 7).text("2");
  t.append("tspan").attr("dy", -7).text(" " + p.name + " response (20°S-20°N)");

  // y label
  var yl = g.append("text")
    .attr("transform", "translate(29.5," + (top + ph / 2) + ") rotate(-90)")
    .attr("text-anchor", "middle").attr("font-size", 34);
  yl.append("tspan").text("Δ Column O");
  yl.append("tspan").attr("font-size", 24).attr("dy", 5.5).text("3");
  yl.append("tspan").attr("dy", -5.5).text(" (DU)");
});

svg.append("text")
  .attr("x", (left + right) / 2).attr("y", 1141)
  .attr("text-anchor", "middle").attr("font-size", fs)
  .text("Time since the start of the experiment (year)");

var legend = svg.append("g");
models.forEach(function(m, k) {
  var ly = 92 + k * 49.9;
  legend.append("line")
    .attr("x1", 1637).attr("x2", 1709).attr("y1", ly).attr("y2", ly)
    .attr("stroke", colors[k]).attr("stroke-width", lw);
  legend.append("text")
    .attr("x", 1734).attr("y", ly + 12.3)
    .attr("font-size", fs).text(m);
});
</script>
</body>
</html>
